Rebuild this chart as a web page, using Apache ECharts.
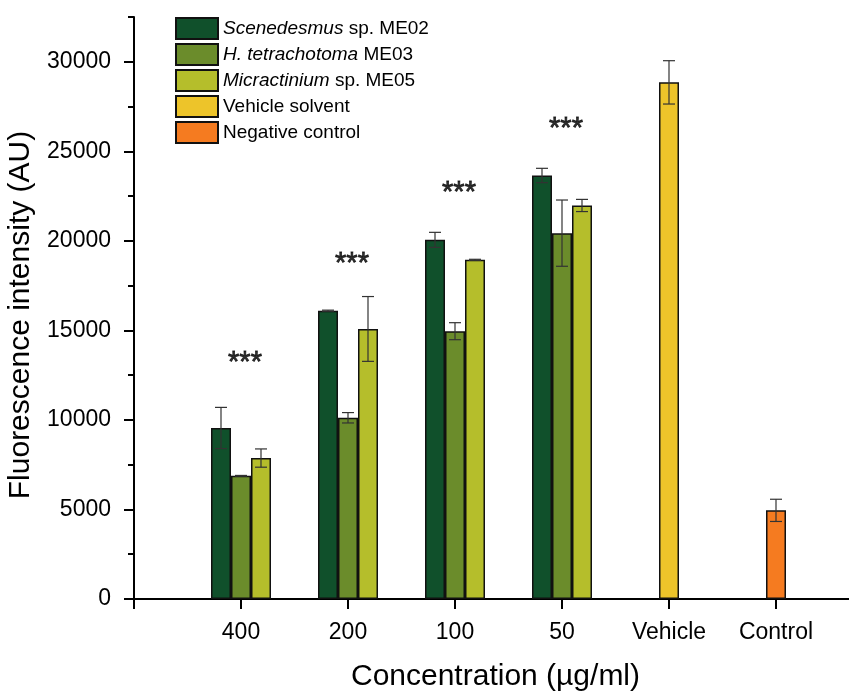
<!DOCTYPE html>
<html lang="en">
	<head>
		<meta charset="UTF-8" />
		<title>Fluorescence intensity</title>
		<script src="https://cdn.jsdelivr.net/npm/echarts@6/dist/echarts.min.js"></script>
		<style>
			* {
				margin: 0;
				padding: 0;
			}
			html,
			body {
				height: 100%;
				background: #fff;
			}
		</style>
	</head>
	<body>
		<div id="main" style="width:849px;height:691px;"></div>

		<script type="text/javascript">
			// categories (first and last empty to pad the axis like the original)
			var categories = ["", "400", "200", "100", "50", "Vehicle", "Control", ""];

			// means and standard deviations
			var me02 = ["-", 9550, 16100, 20055, 23650, "-", "-", "-"];
			var me02Err = [0, 1150, 30, 420, 400, 0, 0, 0];
			var me03 = ["-", 6880, 10120, 14955, 20430, "-", "-", "-"];
			var me03Err = [0, 20, 290, 475, 1850, 0, 0, 0];
			var me05 = ["-", 7870, 15080, 18940, 21975, "-", "-", "-"];
			var me05Err = [0, 510, 1810, 30, 340, 0, 0, 0];
			var vehicle = ["-", "-", "-", "-", "-", 28850, "-", "-"];
			var vehicleErr = [0, 0, 0, 0, 0, 1210, 0, 0];
			var control = ["-", "-", "-", "-", "-", "-", 4950, "-"];
			var controlErr = [0, 0, 0, 0, 0, 0, 620, 0];

			// significance marks (value at the mark)
			var sigCats = [1, 2, 3, 4];
			var sigY = [13330, 18900, 22850, 26430];
			var sigText = "***";

			var names = [
				"Scenedesmus sp. ME02",
				"H. tetrachotoma ME03",
				"Micractinium sp. ME05",
				"Vehicle solvent",
				"Negative control"
			];
			var colors = ["#10502b", "#6b8c2b", "#b5be2b", "#edc42a", "#f57b20"];

			var FONT = "Liberation Sans";
			var BAR_W = 20;

			function barSeries(i, data, stack) {
				var s = {
					name: names[i],
					type: "bar",
					data: data,
					barWidth: BAR_W,
					barGap: "0%",
					itemStyle: {
						color: colors[i],
						borderColor: "#111",
						borderWidth: 1.5
					},
					z: 2
				};
				if (stack) s.stack = stack;
				return s;
			}

			// error bars drawn through the category/value scales, shifted by bar slot
			function errSeries(means, errs, slot) {
				var d = [];
				for (var i = 0; i < means.length; i++) {
					if (means[i] !== "-") d.push([i, means[i], errs[i]]);
				}
				return {
					type: "custom",
					data: d,
					z: 5,
					silent: true,
					renderItem: function(params, api) {
						var c = api.value(0);
						var m = api.value(1);
						var e = api.value(2);
						var hi = api.coord([c, m + e]);
						var lo = api.coord([c, m - e]);
						var x = hi[0] + slot * BAR_W;
						var cap = 6;
						var st = { stroke: "#333", lineWidth: 1.2 };
						return {
							type: "group",
							children: [
								{ type: "line", shape: { x1: x, y1: hi[1], x2: x, y2: lo[1] }, style: st },
								{ type: "line", shape: { x1: x - cap, y1: hi[1], x2: x + cap, y2: hi[1] }, style: st },
								{ type: "line", shape: { x1: x - cap, y1: lo[1], x2: x + cap, y2: lo[1] }, style: st }
							]
						};
					}
				};
			}

			var sigData = [];
			for (var k = 0; k < sigCats.length; k++) sigData.push([sigCats[k], sigY[k]]);

			var option = {
				animation: false,
				backgroundColor: "#fff",
				textStyle: { fontFamily: FONT, color: "#000" },
				grid: {
					left: 134,
					top: 17,
					bottom: 92,
					right: -34,
					outerBoundsMode: "none",
					containLabel: false
				},
				legend: {
					data: names,
					orient: "vertical",
					left: 175,
					top: 17,
					padding: 0,
					itemWidth: 42,
					itemHeight: 21,
					itemGap: 3,
					icon: "rect",
					selectedMode: false,
					formatter: function(n) {
						if (n.indexOf("Scenedesmus") === 0) return "{i|Scenedesmus} sp. ME02";
						if (n.indexOf("H. tetrachotoma") === 0) return "{i|H. tetrachotoma} ME03";
						if (n.indexOf("Micractinium") === 0) return "{i|Micractinium} sp. ME05";
						return n;
					},
					textStyle: {
						fontFamily: FONT,
						fontSize: 19,
						color: "#000",
						rich: {
							i: { fontFamily: FONT, fontSize: 19, fontStyle: "italic", color: "#000" }
						}
					}
				},
				xAxis: [
					{
						type: "category",
						data: categories,
						boundaryGap: false,
						name: "Concentration (µg/ml)",
						nameLocation: "middle",
						nameGap: 63,
						nameTextStyle: { fontFamily: FONT, fontSize: 30, color: "#000", padding: [0, 26, 0, 0] },
						axisLine: { lineStyle: { color: "#000", width: 2 } },
						axisTick: { interval: 0, length: 10, lineStyle: { color: "#000", width: 2 } },
						axisLabel: { interval: 0, fontFamily: FONT, fontSize: 23, color: "#000", margin: 22 },
						splitLine: { show: false }
					}
				],
				yAxis: [
					{
						type: "value",
						position: "left",
						min: 0,
						max: 32500,
						interval: 5000,
						name: "Fluorescence intensity (AU)",
						nameLocation: "middle",
						nameGap: 83,
						nameTextStyle: { fontFamily: FONT, fontSize: 30, color: "#000", padding: [0, 14, 0, 0] },
						axisLine: { show: true, lineStyle: { color: "#000", width: 2 } },
						axisTick: { show: true, length: 10, lineStyle: { color: "#000", width: 2 } },
						axisLabel: {
							fontFamily: FONT,
							fontSize: 23,
							color: "#000",
							margin: 23,
							showMaxLabel: false,
							formatter: function(v) {
								return String(v);
							}
						},
						splitLine: { show: false }
					},
					{
						type: "value",
						position: "left",
						min: 0,
						max: 32500,
						interval: 2500,
						axisLine: { show: false },
						axisTick: { show: true, length: 6, lineStyle: { color: "#000", width: 2 } },
						axisLabel: { show: false },
						splitLine: { show: false }
					}
				],
				series: [
					barSeries(0, me02),
					barSeries(1, me03, "mid"),
					barSeries(2, me05),
					barSeries(3, vehicle, "mid"),
					barSeries(4, control, "mid"),
					errSeries(me02, me02Err, -1),
					errSeries(me03, me03Err, 0),
					errSeries(me05, me05Err, 1),
					errSeries(vehicle, vehicleErr, 0),
					errSeries(control, controlErr, 0),
					{
						type: "scatter",
						data: sigData,
						symbolSize: 0,
						silent: true,
						z: 6,
						label: {
							show: true,
							position: "inside",
							formatter: sigText,
							fontFamily: FONT,
							fontSize: 29,
							color: "#000",
							textBorderColor: "#000",
							textBorderWidth: 0.8,
							offset: [4, 3]
						}
					}
				]
			};

			var myChart = echarts.init(document.getElementById("main"));
			myChart.setOption(option);
		</script>
	</body>
</html>
